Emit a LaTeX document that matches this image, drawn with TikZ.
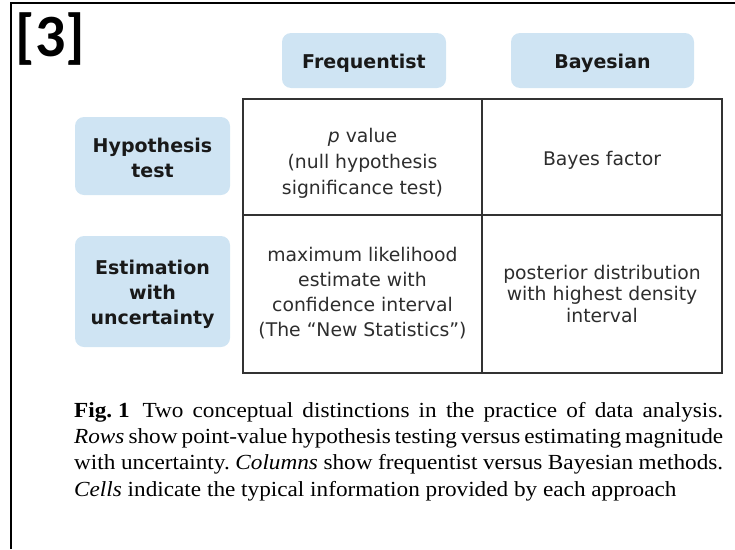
\documentclass[tikz,border=0pt]{standalone}
\usepackage{fontspec}
\setmainfont{Liberation Serif}[FakeStretch=1.08]
\newfontfamily\verd{DejaVu Sans}
\newfontfamily\calib{Carlito}
\definecolor{boxblue}{RGB}{207,228,243}
\definecolor{gridc}{RGB}{50,50,50}
\definecolor{celltext}{RGB}{45,45,45}
\begin{document}
\frenchspacing
\begin{tikzpicture}[x=1pt,y=-1pt,
  hdr/.style={fill=boxblue, rounded corners=9pt, draw=none, inner sep=0pt},
  hdrtext/.style={inner sep=0pt, align=center, text=black!90,
    font=\verd\bfseries\fontsize{19}{25}\selectfont},
  cellbox/.style={draw=gridc, line width=2pt, inner sep=0pt},
  celltxt/.style={inner sep=0pt, align=center, text=celltext},
]
\useasboundingbox (0,0) rectangle (735,549);
% outer frame (top and left edges visible)
\draw[line width=2.2pt, black] (11,549) -- (11,3) -- (735,3);
% label
\node[inner sep=0pt, font=\calib\bfseries\fontsize{60}{64}\selectfont] (num) at (50.5,39.5) {[3]};
% column headers
\node[hdr, minimum width=164pt, minimum height=55pt] (freq) at (364,60.5) {};
\node[hdrtext] (freqt) at (364,63) {Frequentist};
\node[hdr, minimum width=183pt, minimum height=55pt] (bayes) at (602.5,60.5) {};
\node[hdrtext] (bayest) at (602.5,63) {Bayesian};
% row headers
\node[hdr, minimum width=155pt, minimum height=78pt] (hyp) at (152.5,156) {};
\node[hdrtext] (hypt) at (152.5,158) {Hypothesis\\test};
\node[hdr, minimum width=155pt, minimum height=111pt] (est) at (152.5,291.5) {};
\node[hdrtext] (estt) at (152.5,294.5) {Estimation\\with\\uncertainty};
% table cells
\node[cellbox, minimum width=239pt, minimum height=116pt] (c11) at (362.5,157) {};
\node[cellbox, minimum width=240pt, minimum height=116pt] (c12) at (602,157) {};
\node[cellbox, minimum width=239pt, minimum height=158pt] (c21) at (362.5,294) {};
\node[cellbox, minimum width=240pt, minimum height=158pt] (c22) at (602,294) {};
% cell texts
\node[celltxt, font=\verd\fontsize{18.8}{26}\selectfont] (t11) at (362.5,163) {{\itshape p} value\\(null hypothesis\\significance test)};
\node[celltxt, font=\verd\fontsize{18.8}{22}\selectfont] (t12) at (602,160) {Bayes factor};
\node[celltxt, font=\verd\fontsize{18.8}{25}\selectfont] (t21) at (362.5,293.5) {maximum likelihood\\estimate with\\confidence interval\\(The “New Statistics”)};
\node[celltxt, font=\verd\fontsize{18.8}{21.5}\selectfont] (t22) at (602,293.5) {posterior distribution\\with highest density\\interval};
% caption
\node[anchor=north west, inner sep=0pt, text width=649pt, align=justify,
  font=\fontsize{21.5}{26.3}\selectfont, text=black] (cap) at (74,402)
  {\textbf{\mbox{Fig. 1}}\hspace{0.6em}Two conceptual distinctions in the practice of data analysis.\linebreak
   \emph{Rows} show point-value hypothesis testing versus estimating magnitude\linebreak
   with uncertainty. \emph{Columns} show frequentist versus Bayesian methods.\linebreak
   \emph{Cells} indicate the typical information provided by each approach};
\end{tikzpicture}
\end{document}
